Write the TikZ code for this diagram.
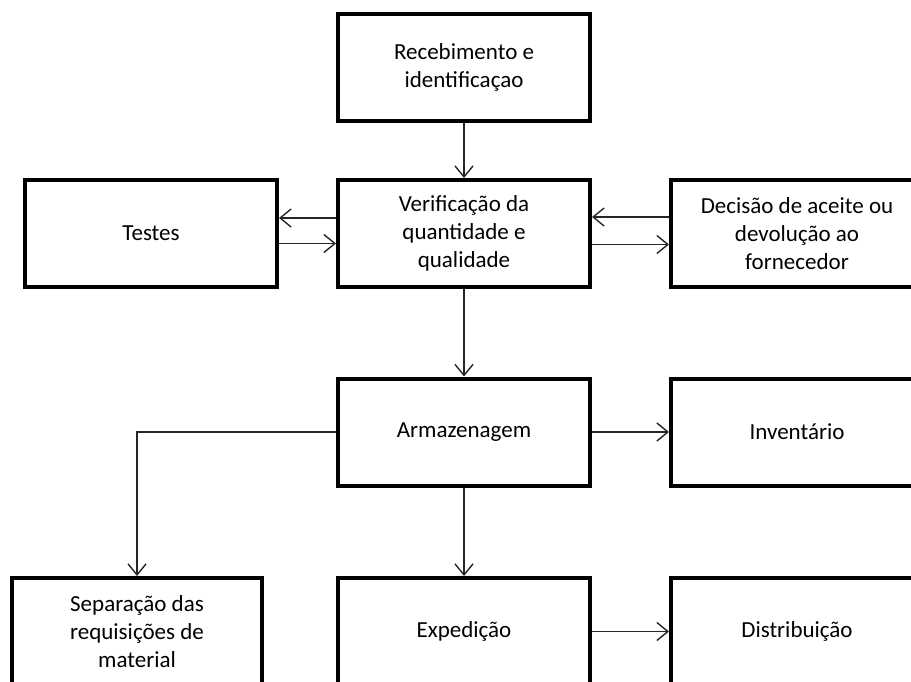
\documentclass[tikz,border=0pt]{standalone}
\usepackage{fontspec}
\setmainfont{Carlito}
\usetikzlibrary{arrows.meta,calc}
\begin{document}
\begin{tikzpicture}[x=1pt,y=-1pt,
  box/.style={draw=black,line width=4pt,rectangle,minimum width=252pt,minimum height=107pt,
    align=center,inner sep=2pt,font=\fontsize{23}{28}\selectfont,text=black,fill=white},
  sepbox/.style={box,minimum width=250pt},
  arr/.style={line width=1.4pt,draw=black!85,-{Straight Barb[length=11pt,width=18pt,line width=1.4pt]}}]
\useasboundingbox (0,0) rectangle (911,682);
\clip (0,0) rectangle (911,682);
\fill[white] (0,0) rectangle (911,682);
\node[box] (rec) at (464,67.5) {Recebimento e\\identificaçao};
\node[box] (ver) at (464,233.5) {Verificação da\\quantidade e\\qualidade};
\node[box] (tes) at (151,233.5) {Testes};
\node[box] (dec) at (797,233.5) {Decisão de aceite ou\\devolução ao\\fornecedor};
\node[box] (arm) at (464,432) {Armazenagem};
\node[box] (inv) at (797,432) {Inventário};
\node[sepbox] (sep) at (137,631.5) {Separação das\\requisições de\\material};
\node[box] (exp) at (464,631.5) {Expedição};
\node[box] (dis) at (797,631.5) {Distribuição};
\draw[arr] (rec) -- (ver);
\draw[arr] ([yshift=15.5pt]ver.west) -- ([yshift=15.5pt]tes.east);
\draw[arr] ([yshift=-10pt]tes.east) -- ([yshift=-10pt]ver.west);
\draw[arr] ([yshift=16.5pt]dec.west) -- ([yshift=16.5pt]ver.east);
\draw[arr] ([yshift=-11pt]ver.east) -- ([yshift=-11pt]dec.west);
\draw[arr] (ver) -- (arm);
\draw[arr] (arm) -- (inv);
\draw[arr] (arm.west) -| (sep.north);
\draw[arr] (arm) -- (exp);
\draw[arr] (exp) -- (dis);
\end{tikzpicture}
\end{document}
